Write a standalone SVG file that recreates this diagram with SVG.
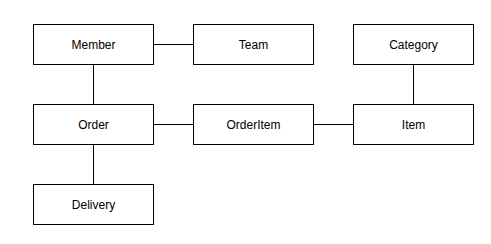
<svg xmlns="http://www.w3.org/2000/svg" width="491" height="244" viewBox="0 0 491 244">
  <style>
    .box { fill: #ffffff; stroke: #000000; stroke-width: 1; }
    .label { font-family: "Liberation Sans", Arial, sans-serif; font-size: 12px; fill: #000000; text-anchor: middle; dominant-baseline: central; }
    .edge { stroke: #000000; stroke-width: 1; fill: none; }
  </style>
  <rect width="491" height="244" fill="#ffffff"/>
  <g id="connectors">
    <path class="edge" d="M153.5 44.5 H193.5"/>
    <path class="edge" d="M93.5 64.5 V104.5"/>
    <path class="edge" d="M153.5 124.5 H193.5"/>
    <path class="edge" d="M313.5 124.5 H353.5"/>
    <path class="edge" d="M413.5 64.5 V104.5"/>
    <path class="edge" d="M93.5 144.5 V184.5"/>
  </g>
  <g id="member">
    <rect class="box" x="33.5" y="24.5" width="120" height="40"/>
    <text class="label" x="93.5" y="44.5">Member</text>
  </g>
  <g id="team">
    <rect class="box" x="193.5" y="24.5" width="120" height="40"/>
    <text class="label" x="253.5" y="44.5">Team</text>
  </g>
  <g id="category">
    <rect class="box" x="353.5" y="24.5" width="120" height="40"/>
    <text class="label" x="413.5" y="44.5">Category</text>
  </g>
  <g id="order">
    <rect class="box" x="33.5" y="104.5" width="120" height="40"/>
    <text class="label" x="93.5" y="124.5">Order</text>
  </g>
  <g id="orderitem">
    <rect class="box" x="193.5" y="104.5" width="120" height="40"/>
    <text class="label" x="253.5" y="124.5">OrderItem</text>
  </g>
  <g id="item">
    <rect class="box" x="353.5" y="104.5" width="120" height="40"/>
    <text class="label" x="413.5" y="124.5">Item</text>
  </g>
  <g id="delivery">
    <rect class="box" x="33.5" y="184.5" width="120" height="40"/>
    <text class="label" x="93.5" y="204.5">Delivery</text>
  </g>
</svg>
